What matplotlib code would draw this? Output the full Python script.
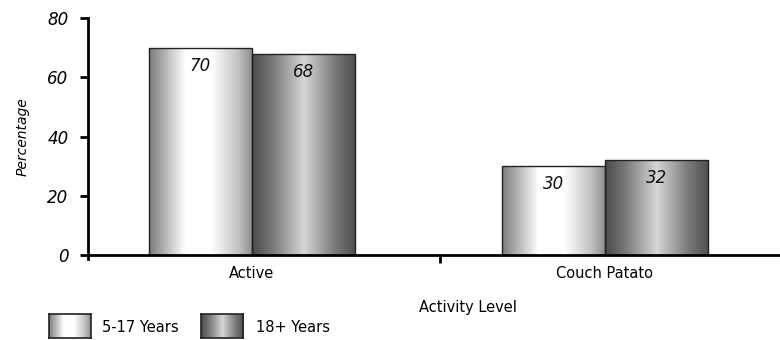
import numpy as np
import matplotlib
matplotlib.use("Agg")
import matplotlib.pyplot as plt
from matplotlib.colors import LinearSegmentedColormap
from matplotlib.patches import Rectangle

categories = ["Active", "Couch Patato"]
series_names = ["5-17 Years", "18+ Years"]
youth = [70, 30]
adult = [68, 32]
y_ticks = [0, 20, 40, 60, 80]

plt.rcParams["font.family"] = ["DejaVu Sans"]

# horizontal shading for each series (metallic cylinder look)
light_cmap = LinearSegmentedColormap.from_list(
    "light", [(0.0, "#7a7a7a"), (0.12, "#a8a8a8"), (0.35, "#ffffff"),
              (0.6, "#ffffff"), (0.85, "#c4c4c4"), (1.0, "#8c8c8c")])
dark_cmap = LinearSegmentedColormap.from_list(
    "dark", [(0.0, "#4a4a4a"), (0.2, "#7a7a7a"), (0.5, "#d6d6d6"),
             (0.8, "#7a7a7a"), (1.0, "#4e4e4e")])
grad = np.linspace(0, 1, 256).reshape(1, -1)

fig = plt.figure(figsize=(7.8, 3.4), dpi=100)
ax = fig.add_axes([88 / 780, 1 - 255 / 340, 1 - 88 / 780, (255 - 18) / 340])

x = np.arange(len(categories))
width = 0.293


def shaded_bars(xs, values, cmap):
    rects = ax.bar(xs, values, width, facecolor="none", edgecolor="#222222",
                   linewidth=1.0, zorder=3)
    for r in rects:
        im = ax.imshow(grad, cmap=cmap, aspect="auto", interpolation="bicubic",
                       extent=[r.get_x(), r.get_x() + r.get_width(), 0, r.get_height()],
                       zorder=2)
        im.set_clip_path(r)
    return rects


r1 = shaded_bars(x - width / 2, youth, light_cmap)
r2 = shaded_bars(x + width / 2, adult, dark_cmap)

for rects, vals in ((r1, youth), (r2, adult)):
    for r, v in zip(rects, vals):
        ax.annotate(f"{v}", (r.get_x() + r.get_width() / 2, v),
                    xytext=(0, -13), textcoords="offset points",
                    ha="center", va="center", fontsize=12, style="italic",
                    color="#111111", zorder=4)

ax.set_xlim(-0.4646, 1.496)
ax.set_ylim(0, 80)
ax.set_yticks(y_ticks)
ax.set_yticklabels([str(t) for t in y_ticks], fontsize=12, style="italic")
ax.set_xticks(x)
ax.set_xticklabels(categories, fontsize=10.5)
ax.set_xticks([0.533], minor=True)
ax.tick_params(axis="x", which="major", length=0, pad=8)
ax.tick_params(axis="x", which="minor", length=6, width=2, direction="out")
ax.tick_params(axis="y", length=6, width=2, direction="out", pad=8)

for side in ("top", "right"):
    ax.spines[side].set_visible(False)
ax.spines["left"].set_linewidth(2)
ax.spines["bottom"].set_linewidth(2)
ax.spines["left"].set_bounds(-1.5, 80)

ax.set_ylabel("Percentage", fontsize=10, style="italic")
ax.yaxis.set_label_coords(-0.085, 0.5)
ax.set_xlabel("Activity Level", fontsize=10.5)
ax.xaxis.set_label_coords((468 - 88) / 692, -45 / 237)

# legend swatches along the bottom
for (x0, tx), name, cmap in zip(((49, 102), (201, 256)), series_names,
                                 (light_cmap, dark_cmap)):
    sax = fig.add_axes([x0 / 780, 1 - 338 / 340, 42 / 780, 24 / 340])
    sax.imshow(grad, cmap=cmap, aspect="auto", interpolation="bicubic")
    sax.set_xticks([])
    sax.set_yticks([])
    for s in sax.spines.values():
        s.set_linewidth(1.2)
        s.set_color("#222222")
    fig.text(tx / 780, 1 - 327 / 340, name, fontsize=10.5, va="center", ha="left")

fig.savefig("out.png", dpi=100)
